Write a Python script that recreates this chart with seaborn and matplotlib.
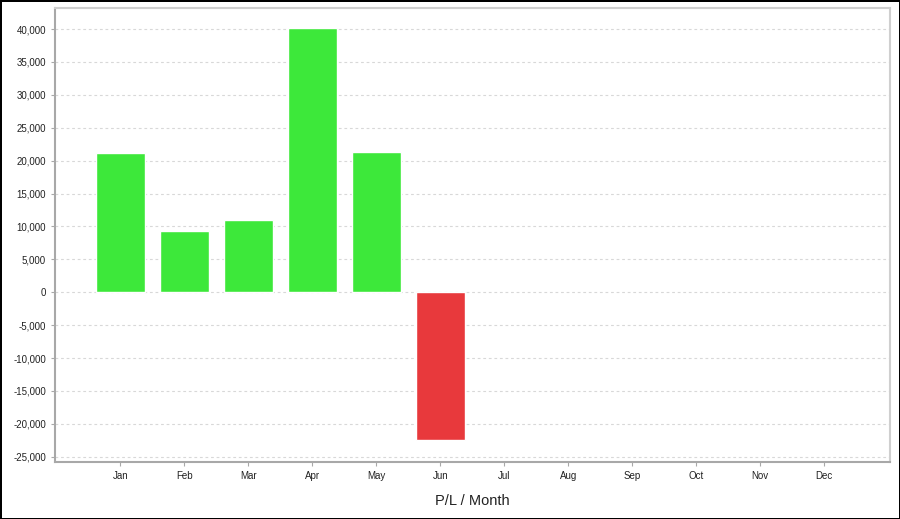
import matplotlib
matplotlib.use("Agg")
import matplotlib.pyplot as plt
import matplotlib.ticker as mticker
import seaborn as sns
import pandas as pd
import numpy as np

# data
months = ["Jan", "Feb", "Mar", "Apr", "May", "Jun",
          "Jul", "Aug", "Sep", "Oct", "Nov", "Dec"]
pl_values = [21100, 9300, 11000, 40100, 21300, -22500,
             np.nan, np.nan, np.nan, np.nan, np.nan, np.nan]
y_ticks = list(range(-25000, 40001, 5000))

GREEN = "#3de83a"
RED = "#e8393c"

df = pd.DataFrame({"month": months, "pl": pl_values})
df["sign"] = np.where(df["pl"] < 0, "loss", "profit")

sns.set_style("white")
plt.rcParams["font.family"] = ["Liberation Sans", "DejaVu Sans"]

fig = plt.figure(figsize=(9, 5.19), dpi=100, linewidth=2, edgecolor="black")
ax = fig.add_axes([0.0611, 0.1098, 0.9278, 0.8748])

sns.barplot(data=df, x="month", y="pl", hue="sign", order=months,
            palette={"profit": GREEN, "loss": RED}, width=0.76,
            legend=False, saturation=1, ax=ax)

# the source chart leaves an empty slot after Dec
ax.set_xlim(-1.02, 12.03)
ax.set_ylim(-25800, 43200)
ax.set_yticks(y_ticks)
ax.yaxis.set_major_formatter(mticker.FuncFormatter(lambda v, p: f"{int(v):,}"))

ax.grid(axis="y", color="#d8d8d8", linestyle=(0, (2.5, 2.5)), linewidth=0.8)
ax.set_axisbelow(True)

for side in ["left", "bottom"]:
    ax.spines[side].set_color("#a8a8a8")
    ax.spines[side].set_linewidth(1.5)
for side in ["top", "right"]:
    ax.spines[side].set_color("#cfcfcf")
    ax.spines[side].set_linewidth(1.5)

ax.tick_params(axis="both", which="major", length=3, width=0.8,
               color="#a8a8a8", labelsize=7, labelcolor="#222222",
               left=True, bottom=True)
ax.set_ylabel("")
ax.set_xlabel("P/L / Month", fontsize=10.5, color="#222222", labelpad=9)

fig.savefig("out.png", dpi=100, edgecolor=fig.get_edgecolor())
